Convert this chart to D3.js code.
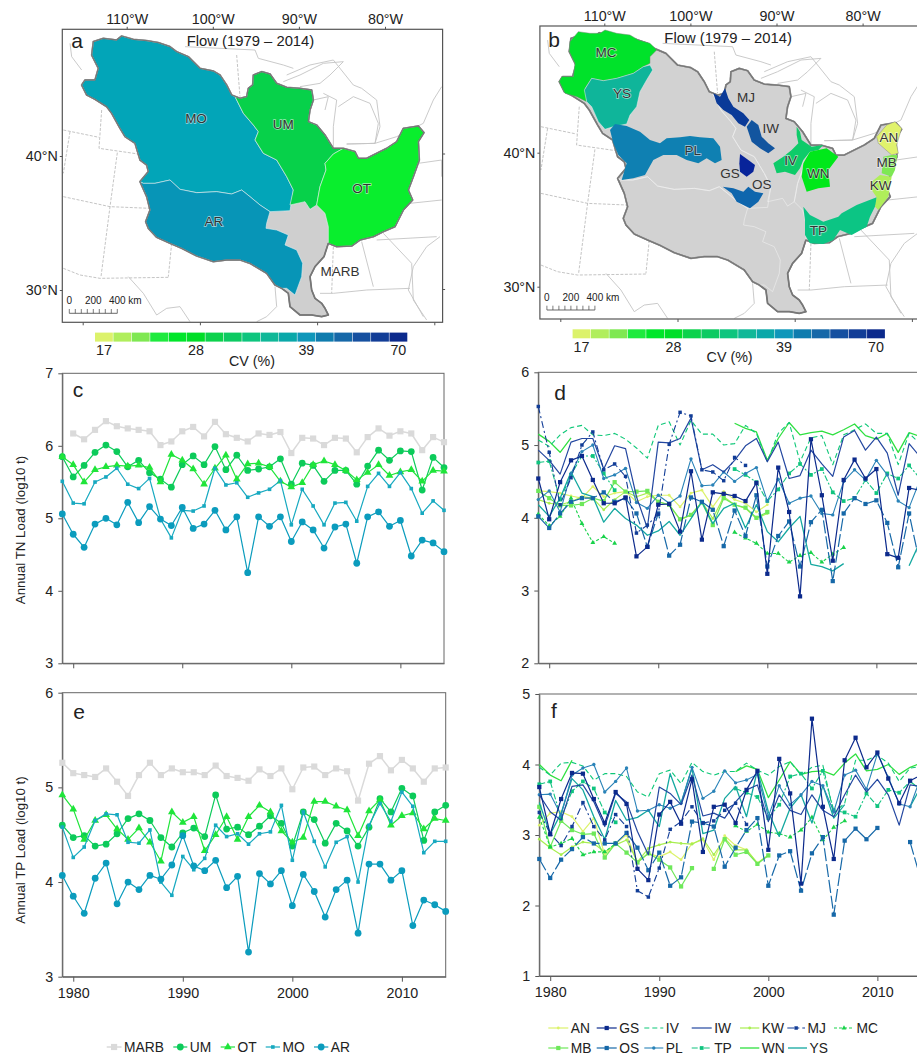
<!DOCTYPE html>
<html>
<head>
<meta charset="utf-8">
<script src="https://cdnjs.cloudflare.com/ajax/libs/d3/7.8.5/d3.min.js"></script>
<style>
  html, body { margin: 0; padding: 0; background: #fff; overflow: hidden; }
  text { font-family: "Liberation Sans", Arial, sans-serif; fill: #222; }
  .axis path, .axis line { stroke: #555; stroke-width: 1; }
  .axis text { font-size: 14.3px; font-family: "Liberation Sans", Arial, sans-serif; fill: #222; }
</style>
</head>
<body>
<script>
var years = d3.range(1979, 2015);
var n = null;

// panel c, annual TN load
var tnMARB = [n,6.17,6.09,6.22,6.34,6.27,6.24,6.22,6.20,6.01,6.06,6.20,6.26,6.13,6.33,6.16,6.11,6.06,6.17,6.15,6.19,5.90,6.11,6.10,6.01,6.11,6.10,5.91,6.12,6.24,6.14,6.20,6.17,5.94,6.12,6.05];
var tnUM = [5.85,5.57,5.73,5.91,6.01,5.92,5.71,5.80,5.63,5.54,5.43,5.74,5.86,5.74,5.99,5.67,5.87,5.66,5.68,5.71,5.82,5.47,5.76,5.73,5.51,5.66,5.66,5.47,5.72,5.94,5.80,5.93,5.92,5.39,5.84,5.70];
var tnOT = [5.85,5.74,5.50,5.67,5.71,5.73,5.72,5.73,5.70,5.50,5.88,5.80,5.68,5.47,5.69,5.87,5.54,5.75,5.76,5.71,5.51,5.43,5.49,5.74,5.79,5.74,5.66,5.53,5.63,5.74,5.59,5.64,5.67,5.51,5.66,5.65];
var tnMO = [5.51,5.21,5.20,5.50,5.57,5.69,5.47,5.41,5.55,4.99,4.73,5.11,5.10,5.17,5.69,5.46,5.49,5.29,5.35,5.40,5.52,4.91,5.40,5.17,4.91,5.21,5.22,4.96,5.44,5.62,5.44,5.63,5.41,5.07,5.24,5.11];
var tnAR = [5.06,4.78,4.60,4.92,5.00,4.91,5.22,4.94,5.16,4.99,4.90,5.15,4.86,4.92,5.11,4.84,5.02,4.25,5.02,4.89,5.02,4.68,4.95,4.84,4.59,4.88,4.92,4.38,5.02,5.09,4.89,4.97,4.48,4.70,4.66,4.54];

// panel e, annual TP load
var tpMARB = [5.26,5.15,5.13,5.11,5.20,5.06,4.91,5.13,5.26,5.13,5.20,5.16,5.16,5.13,5.23,5.12,5.10,5.07,5.19,5.12,5.20,4.98,5.21,5.22,5.13,5.20,5.17,4.86,5.25,5.33,5.18,5.29,5.20,5.06,5.20,5.21];
var tpUM = [4.60,4.47,4.49,4.38,4.40,4.51,4.67,4.72,4.65,4.47,4.37,4.52,4.57,4.48,4.92,4.56,4.58,4.50,4.59,4.70,4.62,4.38,4.74,4.66,4.41,4.62,4.54,4.38,4.58,4.88,4.74,4.99,4.91,4.44,4.74,4.81];
var tpOT = [4.92,4.77,4.45,4.65,4.71,4.56,4.45,4.57,4.42,4.22,4.74,4.63,4.69,4.33,4.50,4.69,4.45,4.69,4.81,4.74,4.54,4.42,4.47,4.85,4.85,4.80,4.76,4.49,4.75,4.87,4.60,4.70,4.73,4.56,4.67,4.65];
var tpMO = [4.58,4.26,4.37,4.65,4.72,4.71,4.42,4.41,4.55,4.00,3.86,4.27,4.13,4.25,4.60,4.48,4.51,4.40,4.51,4.53,4.81,4.23,4.74,4.43,4.16,4.42,4.48,4.00,4.60,4.83,4.64,4.95,4.80,4.31,4.43,4.43];
var tpAR = [4.07,3.85,3.67,4.04,4.20,3.77,4.00,3.92,4.07,4.03,4.18,4.49,4.17,4.12,4.23,3.94,4.06,3.26,4.09,3.98,4.12,3.75,4.08,3.90,3.63,3.92,4.02,3.46,4.19,4.19,4.02,4.12,3.54,3.81,3.76,3.69];

// panel d, TN load of the sub-basins
var tnAN = [4.37,4.36,4.34,4.30,4.27,4.43,4.29,4.34,4.36,4.22,4.29,4.31,4.31,4.15,4.34,4.38,4.15,4.36,4.25,4.20,4.08,4.18,n,n,n,n,n,n,n,n,n,n,n,n,n,n];
var tnGS = [4.54,3.98,4.49,4.79,4.85,4.52,4.20,4.20,4.28,3.47,3.60,4.18,4.19,3.81,4.64,3.70,4.35,4.33,4.30,4.23,4.48,3.23,4.69,4.08,2.92,5.08,4.31,3.41,4.52,4.80,4.54,4.67,3.50,3.45,4.41,4.38];
var tnIV = [5.07,4.98,5.14,5.24,5.27,5.14,5.13,5.16,5.08,4.96,4.82,5.27,5.32,5.00,5.34,5.15,5.15,5.00,5.02,5.27,5.16,4.77,5.16,5.31,4.77,5.10,5.13,4.73,5.14,5.21,5.29,5.16,5.16,4.73,5.16,5.02];
var tnIW = [4.93,4.79,4.60,5.04,5.09,5.09,4.67,4.99,4.95,4.29,3.86,5.04,5.03,5.09,5.37,4.66,4.73,4.63,4.79,4.99,5.09,4.77,5.04,4.54,4.58,4.93,4.74,4.57,5.11,5.20,4.93,5.11,4.89,4.31,5.02,4.84];
var tnKW = [4.25,4.20,4.18,4.22,4.29,4.27,4.11,4.25,4.36,4.29,4.34,4.22,4.18,3.97,4.04,4.22,3.99,4.29,4.18,4.13,3.99,4.06,n,n,n,n,n,n,n,n,n,n,n,n,n,n];
var tnMJ = [5.53,4.90,4.18,4.55,5.00,5.18,4.66,4.74,4.57,3.79,3.90,4.05,5.01,5.45,5.40,4.66,4.63,4.51,4.83,4.72,n,n,n,n,n,n,n,n,n,n,n,n,n,n,n,n];
var tnMC = [4.05,3.89,4.02,4.27,3.92,3.66,3.74,3.65,n,n,n,n,n,n,n,n,n,n,3.80,3.72,3.65,3.51,3.51,3.39,3.48,3.52,3.39,3.50,3.59,n,n,n,n,n,n,n];
var tnMB = [4.37,4.27,4.17,4.17,4.19,4.27,4.23,4.49,4.36,4.36,4.37,4.22,4.18,3.98,4.04,4.21,3.90,4.27,4.18,4.14,4.00,4.08,n,n,n,n,n,n,n,n,n,n,n,n,n,n];
var tnOS = [4.02,3.86,4.06,4.22,4.27,4.27,4.35,4.22,4.27,4.06,3.60,4.06,3.48,3.63,4.28,4.22,4.11,3.61,4.10,3.75,4.31,3.33,3.75,3.95,3.33,3.94,4.11,3.13,4.06,4.27,4.19,4.24,3.93,3.32,4.06,3.36];
var tnPL = [4.25,4.37,4.08,4.61,4.91,5.00,4.54,4.59,4.68,4.21,4.13,4.31,4.20,4.30,4.81,4.44,4.45,4.63,4.50,4.61,4.69,4.23,4.53,4.20,4.27,4.30,4.06,4.04,4.50,4.66,4.52,4.79,4.59,4.23,4.14,4.52];
var tnTP = [4.76,4.78,4.25,4.59,4.85,4.85,4.61,4.38,n,n,n,n,n,n,n,n,n,n,4.67,4.59,4.49,4.23,4.39,4.61,4.74,4.59,4.67,4.35,4.23,4.27,4.52,4.34,4.61,4.54,4.72,4.54];
var tnWN = [5.15,5.05,4.90,5.10,n,n,n,n,n,n,n,n,n,n,n,n,n,n,5.30,5.23,5.18,4.79,5.09,5.31,5.14,5.17,5.19,5.14,5.21,5.29,5.13,5.08,5.16,4.90,5.17,5.12];
var tnYS = [4.18,4.02,4.27,4.63,4.34,4.29,3.94,4.13,3.99,3.90,3.76,3.82,3.95,3.76,3.99,4.22,3.92,4.13,4.20,3.86,4.18,3.81,3.67,3.86,4.02,3.36,3.33,3.27,3.37,n,n,n,n,n,3.34,3.67];

// panel f, TP load of the sub-basins
var tpAN = [3.14,3.31,3.33,3.26,3.05,3.24,2.72,2.88,3.00,2.61,2.74,2.69,2.76,2.65,2.88,2.93,2.65,2.99,2.85,2.79,2.60,2.72,n,n,n,n,n,n,n,n,n,n,n,n,n,n];
var tpGS = [3.68,3.01,3.51,3.88,3.87,3.51,3.17,3.61,3.44,2.52,2.36,3.29,3.47,3.16,3.79,2.76,3.40,3.43,3.17,3.64,3.91,2.79,4.08,3.59,2.31,4.65,3.40,2.66,4.06,4.38,3.96,4.17,3.80,3.45,3.77,3.85];
var tpIV = [3.96,3.85,4.02,4.03,3.98,3.78,3.87,3.87,3.83,3.61,3.54,3.87,3.92,3.73,4.03,3.90,3.85,3.90,3.90,4.02,3.92,3.85,3.97,4.04,3.85,3.96,3.99,3.31,3.45,4.06,4.06,4.13,4.02,3.76,3.95,3.97];
var tpIW = [3.57,3.33,3.21,3.69,3.71,3.47,3.12,3.59,3.47,3.05,2.72,3.68,3.59,3.43,3.85,3.27,3.31,3.24,3.47,3.64,3.71,3.19,3.57,3.35,3.29,3.57,3.35,3.26,3.57,3.85,3.61,3.79,3.57,3.14,3.71,3.69];
var tpKW = [2.94,2.82,2.72,2.83,2.90,2.88,2.76,2.86,2.93,2.62,2.81,2.86,2.90,2.88,2.87,2.95,2.72,2.95,2.79,2.79,2.60,2.71,n,n,n,n,n,n,n,n,n,n,n,n,n,n];
var tpMJ = [3.32,3.02,2.85,3.12,3.46,3.12,2.93,3.29,3.12,2.21,2.12,2.53,3.08,3.19,3.40,3.17,3.20,3.35,3.45,3.15,n,n,n,n,n,n,n,n,n,n,n,n,n,n,n,n];
var tpMC = [3.25,2.83,2.88,2.95,2.72,2.76,2.76,2.88,n,n,n,n,n,n,n,n,n,n,3.13,3.05,3.15,3.04,3.02,2.97,3.07,3.25,2.93,3.11,3.20,n,n,n,n,n,n,n];
var tpMB = [3.40,2.83,3.20,3.07,3.01,3.02,2.68,2.88,2.75,2.61,2.74,2.65,2.54,2.27,2.53,n,2.52,2.94,2.72,2.76,2.59,2.71,n,n,n,n,n,n,n,n,n,n,n,n,n,n];
var tpOS = [2.66,2.39,2.65,2.80,2.97,2.88,2.88,2.88,3.03,2.82,2.50,2.75,2.28,2.40,3.19,3.17,3.12,2.55,2.82,3.07,3.24,2.28,2.71,2.77,2.21,2.74,2.97,1.87,2.92,3.09,2.94,3.10,n,n,2.90,2.36];
var tpPL = [3.57,3.58,3.28,3.85,3.95,4.00,3.61,3.76,3.95,3.34,3.35,3.43,3.38,3.45,3.96,3.52,3.62,3.91,3.74,3.78,3.86,3.26,3.70,3.43,3.57,3.76,3.70,3.33,3.85,3.92,3.65,4.15,3.82,3.44,3.40,3.83];
var tpTP = [3.72,3.76,3.24,3.62,3.76,3.66,3.32,3.18,n,n,n,n,n,n,n,n,n,n,3.66,3.60,3.54,3.24,3.43,3.83,3.87,3.66,3.91,3.35,3.32,3.26,3.59,3.41,3.64,3.60,3.76,3.64];
var tpWN = [4.00,3.85,3.77,4.06,n,n,n,n,n,n,n,n,n,n,n,n,n,n,3.90,3.98,3.93,3.53,3.78,4.04,3.86,3.90,3.91,3.85,4.02,4.15,3.91,3.93,4.00,3.86,3.96,4.02];
var tpYS = [3.46,3.01,3.31,3.80,3.64,3.26,2.94,3.49,3.21,3.25,3.35,3.12,3.87,3.45,3.95,3.02,3.07,3.52,3.69,3.26,3.92,3.33,2.98,3.38,3.57,3.17,3.70,3.24,3.43,n,n,n,n,n,3.40,3.69];

// colour key
var cvLabels = ["17", "", "", "", "", "28", "", "", "", "", "", "39", "", "", "", "", "70"];
var cvColors = ["#dcf26b", "#b0ee5c", "#7fe852", "#1eea3e", "#00e62a", "#00de28", "#0cd24c", "#0dca62", "#0ec57e", "#10b898", "#0aa8a9", "#0f97ba", "#0f7cae", "#1668a8", "#1650a0", "#123d97", "#0c2a8c"];

// map outlines, in map units (3 units = 1 px)
var outlineBasin = [[280,125],[310,115],[350,120],[365,108],[400,118],[440,122],[475,128],[510,140],[530,155],[565,170],[600,205],[640,213],[660,225],[680,255],[695,285],[720,295],[740,290],[745,265],[758,255],[760,225],[785,215],[810,222],[830,250],[860,262],[900,265],[935,270],[940,300],[930,330],[925,365],[950,375],[975,405],[1000,445],[1030,445],[1065,455],[1075,475],[1100,475],[1130,460],[1160,445],[1190,425],[1210,385],[1255,378],[1272,398],[1255,425],[1258,480],[1240,530],[1225,570],[1238,600],[1210,630],[1185,680],[1150,695],[1120,710],[1080,720],[1055,738],[1010,740],[985,730],[972,770],[945,800],[930,830],[935,870],[945,895],[965,910],[975,925],[985,945],[965,950],[935,945],[900,945],[870,920],[865,880],[845,865],[825,855],[800,820],[750,790],[720,780],[680,780],[640,785],[590,768],[545,745],[510,730],[470,712],[445,685],[437,665],[450,630],[440,590],[420,545],[445,515],[440,495],[420,480],[405,430],[375,410],[360,385],[335,340],[320,320],[285,298],[260,285],[245,255],[255,240],[285,240],[295,205],[275,165]];
var outlineMO = [[280,125],[310,115],[350,120],[365,108],[400,118],[440,122],[475,128],[510,140],[530,155],[565,170],[600,205],[640,213],[660,225],[680,255],[695,285],[705,290],[730,340],[760,375],[775,395],[765,420],[790,460],[830,480],[860,530],[880,570],[870,632],[810,635],[780,615],[750,590],[725,570],[695,582],[650,575],[590,578],[540,568],[510,540],[465,550],[430,550],[420,545],[445,515],[440,495],[420,480],[405,430],[375,410],[360,385],[335,340],[320,320],[285,298],[260,285],[245,255],[255,240],[285,240],[295,205],[275,165]];
var outlineUM = [[705,290],[720,295],[740,290],[745,265],[758,255],[760,225],[785,215],[810,222],[830,250],[860,262],[900,265],[935,270],[940,300],[930,330],[925,365],[950,375],[975,405],[1000,445],[1030,445],[1000,462],[975,490],[978,510],[960,560],[950,615],[930,628],[915,605],[870,615],[880,570],[860,530],[830,480],[790,460],[765,420],[775,395],[760,375],[730,340]];
var outlineOT = [[1030,445],[1065,455],[1075,475],[1100,475],[1130,460],[1160,445],[1190,425],[1210,385],[1255,378],[1272,398],[1255,425],[1258,480],[1240,530],[1225,570],[1238,600],[1210,630],[1185,680],[1150,695],[1120,710],[1080,720],[1055,738],[1010,740],[985,730],[985,680],[975,640],[950,615],[960,560],[978,510],[975,490],[1000,462]];
var outlineAR = [[420,545],[430,550],[465,550],[510,540],[540,568],[590,578],[650,575],[695,582],[725,570],[750,590],[780,615],[810,635],[800,670],[798,685],[830,690],[865,705],[855,735],[890,750],[908,790],[905,830],[885,885],[860,865],[845,865],[825,855],[800,820],[750,790],[720,780],[680,780],[640,785],[590,768],[545,745],[510,730],[470,712],[445,685],[437,665],[450,630],[440,590]];

// sub-basins of panel b, same units, origin of that panel
var outlineMC = [[240,125],[265,95],[300,100],[330,100],[345,90],[380,100],[420,105],[445,120],[480,130],[500,150],[480,170],[480,190],[460,200],[430,220],[380,235],[340,242],[305,235],[285,265],[290,305],[260,290],[225,280],[208,245],[215,230],[250,230],[255,190],[238,155]];
var outlineYS = [[305,235],[340,242],[380,235],[430,220],[460,200],[480,195],[488,210],[470,240],[450,275],[440,320],[420,345],[410,372],[370,380],[345,388],[325,365],[305,320],[290,305],[283,270]];
var outlinePL = [[360,390],[375,372],[410,378],[450,395],[480,420],[510,430],[530,415],[570,412],[600,408],[630,412],[670,415],[690,440],[695,480],[675,490],[650,475],[625,490],[590,480],[560,465],[520,465],[490,480],[465,525],[430,535],[395,540],[410,490],[385,465],[370,430]];
var outlineMJ = [[670,280],[690,290],[705,265],[715,295],[730,320],[760,340],[778,360],[765,380],[745,370],[725,345],[700,330],[680,310]];
var outlineIW = [[770,380],[785,360],[805,375],[815,410],[835,430],[855,445],[835,460],[810,445],[785,425]];
var outlineGS = [[750,462],[775,480],[795,495],[790,515],[770,530],[750,515],[748,490]];
var outlineOS = [[698,560],[730,565],[760,575],[775,560],[795,575],[820,580],[805,605],[780,625],[740,605],[725,580]];
var outlineIV = [[920,380],[930,395],[935,420],[965,440],[1000,435],[985,450],[960,455],[940,480],[930,505],[915,525],[885,515],[860,520],[850,490],[880,470],[905,450],[925,430],[920,405]];
var outlineWN = [[960,455],[985,450],[1010,445],[1045,470],[1015,510],[1020,560],[985,565],[950,575],[935,530],[940,490]];
var outlineTP = [[940,620],[960,645],[1000,665],[1045,650],[1055,640],[1100,615],[1160,592],[1160,610],[1140,650],[1130,680],[1085,705],[1050,690],[1030,720],[1000,732],[960,730],[945,705],[945,660]];
var outlineAN = [[1160,410],[1190,375],[1215,365],[1235,385],[1220,435],[1225,460],[1205,465],[1165,430]];
var outlineMB = [[1180,470],[1205,465],[1222,465],[1215,510],[1205,530],[1175,520]];
var outlineKW = [[1145,545],[1170,525],[1205,530],[1195,590],[1165,630],[1155,620],[1160,592],[1145,570]];

// state lines and coasts behind the basin
var westLines = [
  [[305,330],[297,445],[415,462]],
  [[210,395],[190,520]],
  [[190,390],[297,412]],
  [[352,458],[330,620],[303,830]],
  [[190,590],[330,620],[450,625]],
  [[515,730],[505,830]],
  [[190,805],[240,825],[300,835],[505,832]],
  [[710,165],[720,290]],
  [[1000,740],[995,880]]
];
var eastLines = [
  [[210,130],[215,170],[245,210]],
  [[555,140],[765,150],[775,175],[850,195],[880,205]],
  [[385,830],[430,880],[470,945],[500,925],[540,920],[570,965]],
  [[825,860],[830,920],[800,950],[770,965]],
  [[850,245],[900,225],[970,190],[1030,185],[990,225],[960,250],[900,260]],
  [[860,225],[930,195],[1000,180],[1060,255],[1085,265]],
  [[970,280],[1010,300],[1000,380],[1000,445]],
  [[940,300],[985,290],[975,330]],
  [[1015,320],[1060,290],[1110,310],[1135,370],[1125,430],[1040,432]],
  [[1085,265],[1130,300],[1140,380],[1125,430]],
  [[1040,432],[1125,430],[1190,410],[1270,370],[1300,300],[1325,260]],
  [[1085,725],[1120,860]],
  [[1150,700],[1235,790],[1240,900],[1280,960]],
  [[1320,710],[1280,740],[1240,800],[1225,870],[1270,950]],
  [[960,880],[1000,880],[1100,870],[1230,865]],
  [[1130,720],[1310,710]],
  [[1230,610],[1325,600]],
  [[1255,490],[1325,480],[1325,530]]
];

var lonTicks = [-110, -100, -90, -80];
var latTicks = [30, 40];
var scaleKm = [0, 50, 100, 150, 200, 250, 300, 350, 400];

var svg = d3.select("body").append("svg")
  .attr("width", 917)
  .attr("height", 1055);

var mapUnit = d3.scaleLinear().domain([0, 3]).range([0, 1]);
var mapLine = d3.line()
  .x(function(d) { return mapUnit(d[0]); })
  .y(function(d) { return mapUnit(d[1]); });

function drawRegion(g, coords, fill, stroke, sw) {
  g.append("path")
    .attr("d", mapLine(coords) + "Z")
    .attr("fill", fill)
    .attr("stroke", stroke)
    .attr("stroke-width", sw)
    .attr("stroke-linejoin", "round");
}

function mapLabel(g, txt, ux, uy, halo) {
  var t = g.append("text")
    .attr("x", mapUnit(ux))
    .attr("y", mapUnit(uy))
    .attr("text-anchor", "middle")
    .attr("dominant-baseline", "middle")
    .style("font-size", "13.5px")
    .style("fill", "#333")
    .text(txt);
  if (halo) {
    t.style("paint-order", "stroke")
      .style("stroke", "rgba(255,255,255,0.6)")
      .style("stroke-width", "1.4px");
  }
}

function colourKey(g) {
  var band = d3.scaleBand().domain(d3.range(cvColors.length)).range([95, 407.3]).paddingInner(0.03);
  g.selectAll("rect.key").data(cvColors).enter().append("rect")
    .attr("class", "key")
    .attr("x", function(d, i) { return band(i); })
    .attr("y", 332.6)
    .attr("width", band.bandwidth())
    .attr("height", 9)
    .attr("fill", function(d) { return d; });
  g.selectAll("text.keylab").data(cvLabels).enter().append("text")
    .attr("class", "keylab")
    .attr("x", function(d, i) { return band(i) + band.bandwidth() / 2; })
    .attr("y", 355)
    .attr("text-anchor", "middle")
    .style("font-size", "14.3px")
    .text(function(d) { return d; });
  g.append("text").attr("x", 252).attr("y", 365.5).attr("text-anchor", "middle")
    .style("font-size", "14.3px").text("CV (%)");
}

// frame, graticule ticks and line work shared by both maps
function mapBase(id, dx, dy, frameW) {
  var g = svg.append("g").attr("transform", "translate(" + dx + "," + dy + ")");
  svg.append("clipPath").attr("id", id).append("rect")
    .attr("x", 62.3).attr("y", 29.3).attr("width", frameW).attr("height", 293);
  var back = g.append("g").attr("clip-path", "url(#" + id + ")");
  back.selectAll("path.west").data(westLines).enter().append("path")
    .attr("class", "west")
    .attr("d", mapLine).attr("fill", "none")
    .attr("stroke", "#b5b5b5").attr("stroke-width", 0.8).attr("stroke-dasharray", "3,1.5");
  back.selectAll("path.east").data(eastLines).enter().append("path")
    .attr("class", "east")
    .attr("d", mapLine).attr("fill", "none")
    .attr("stroke", "#c4c4c4").attr("stroke-width", 0.9);

  var lonTop = d3.scaleLinear().domain([-110, -80]).range([126.7, 385]);
  var lonBottom = d3.scaleLinear().domain([-110, -80]).range([82.7, 434.3]);
  var lat = d3.scaleLinear().domain([30, 40]).range([290, 156]);
  var latRight = d3.scaleLinear().domain([30, 40]).range([289, 153.5]);

  g.append("g").attr("class", "axis").attr("transform", "translate(0,29.3)")
    .call(d3.axisTop(lonTop).tickValues(lonTicks).tickSize(2.5).tickSizeOuter(0).tickPadding(3)
      .tickFormat(function(d) { return Math.abs(d) + "°W"; }))
    .call(function(s) { s.select(".domain").remove(); });
  g.append("g").attr("class", "axis").attr("transform", "translate(0,322.3)")
    .call(d3.axisBottom(lonBottom).tickValues(lonTicks).tickSize(3).tickSizeOuter(0).tickFormat(""))
    .call(function(s) { s.select(".domain").remove(); });
  g.append("g").attr("class", "axis").attr("transform", "translate(62.3,0)")
    .call(d3.axisLeft(lat).tickValues(latTicks).tickSize(2.5).tickSizeOuter(0).tickPadding(2)
      .tickFormat(function(d) { return d + "°N"; }))
    .call(function(s) { s.select(".domain").remove(); });
  g.append("g").attr("class", "axis").attr("transform", "translate(442.6,0)")
    .call(d3.axisRight(latRight).tickValues(latTicks).tickSize(2.5).tickSizeOuter(0).tickFormat(""))
    .call(function(s) { s.select(".domain").remove(); });
  return g;
}

function mapFrame(g, frameW) {
  g.append("rect").attr("x", 62.3).attr("y", 29.3).attr("width", frameW).attr("height", 293)
    .attr("fill", "none").attr("stroke", "#555").attr("stroke-width", 1.2);
}

function scaleBar(g) {
  var km = d3.scaleLinear().domain([0, 400]).range([69.3, 117.3]);
  g.append("line").attr("x1", km(0)).attr("x2", km(400)).attr("y1", 313.3).attr("y2", 313.3)
    .attr("stroke", "#444").attr("stroke-width", 0.8);
  g.selectAll("line.kmtick").data(scaleKm).enter().append("line")
    .attr("class", "kmtick")
    .attr("x1", km).attr("x2", km).attr("y1", 309).attr("y2", 313.3)
    .attr("stroke", "#444").attr("stroke-width", 0.7);
  [0, 200, 400].forEach(function(v) {
    g.append("text").attr("x", km(v)).attr("y", 304)
      .attr("text-anchor", "middle")
      .style("font-size", "10px").text(v);
  });
  g.append("text").attr("x", km(400) + 11).attr("y", 304).style("font-size", "10px").text("km");
}

// panel a
var mapA = mapBase("clipA", 0, 0, 380.3);
drawRegion(mapA, outlineBasin, "#cfcfcf", "#777", 1.7);
drawRegion(mapA, outlineMO, "#02a5b8", "#e6eef0", 0.6);
drawRegion(mapA, outlineUM, "#07d14a", "#e6eef0", 0.6);
drawRegion(mapA, outlineOT, "#09ee2d", "#e6eef0", 0.6);
drawRegion(mapA, outlineAR, "#0795b7", "#e6eef0", 0.6);
mapA.append("path").attr("d", mapLine(outlineBasin) + "Z").attr("fill", "none")
  .attr("stroke", "#777").attr("stroke-width", 1.3).attr("stroke-linejoin", "round");
mapLabel(mapA, "MO", 588, 358, true);
mapLabel(mapA, "UM", 850, 375, true);
mapLabel(mapA, "OT", 1085, 567, true);
mapLabel(mapA, "AR", 642, 668, true);
mapLabel(mapA, "MARB", 1020, 818, false);
mapFrame(mapA, 380.3);
scaleBar(mapA);
mapA.append("text").attr("x", 250.5).attr("y", 46).attr("text-anchor", "middle")
  .style("font-size", "14.8px").text("Flow (1979 – 2014)");
mapA.append("text").attr("x", 77).attr("y", 48).attr("text-anchor", "middle")
  .style("font-size", "21px").text("a");
colourKey(mapA);

// panel b
var mapB = mapBase("clipB", 477.6, -3.3, 460);
drawRegion(mapB, outlineBasin, "#d2d2d2", "#777", 1.7);
[outlineMO, outlineUM, outlineOT, outlineAR].forEach(function(o) {
  drawRegion(mapB, o, "none", "#f0f0f0", 0.6);
});
mapB.append("path").attr("d", mapLine(outlineBasin) + "Z").attr("fill", "none")
  .attr("stroke", "#777").attr("stroke-width", 1.3).attr("stroke-linejoin", "round");
mapFrame(mapB, 460);
scaleBar(mapB);
mapB.append("text").attr("x", 250.5).attr("y", 46).attr("text-anchor", "middle")
  .style("font-size", "14.8px").text("Flow (1979 – 2014)");
colourKey(mapB);

var subB = svg.append("g").attr("transform", "translate(490,0)");
drawRegion(subB, outlineMC, "#00e22a", "#7a8a7a", 0.5);
drawRegion(subB, outlineYS, "#0fb59a", "#f0f0f0", 0.5);
drawRegion(subB, outlinePL, "#0f80b2", "none", 0);
drawRegion(subB, outlineMJ, "#0a3a98", "none", 0);
drawRegion(subB, outlineIW, "#12559f", "none", 0);
drawRegion(subB, outlineGS, "#08249a", "none", 0);
drawRegion(subB, outlineOS, "#0f66ad", "none", 0);
drawRegion(subB, outlineIV, "#0ecb69", "none", 0);
drawRegion(subB, outlineWN, "#00e81a", "none", 0);
drawRegion(subB, outlineTP, "#0cc584", "none", 0);
drawRegion(subB, outlineAN, "#e0f26c", "#8a8a8a", 0.5);
drawRegion(subB, outlineMB, "#7ee854", "none", 0);
drawRegion(subB, outlineKW, "#b0ee5a", "none", 0);
mapLabel(subB, "MC", 348, 160, true);
mapLabel(subB, "YS", 396, 282, true);
mapLabel(subB, "PL", 608, 455, true);
mapLabel(subB, "MJ", 768, 295, false);
mapLabel(subB, "IW", 842, 387, false);
mapLabel(subB, "GS", 720, 522, false);
mapLabel(subB, "OS", 815, 556, false);
mapLabel(subB, "IV", 902, 483, true);
mapLabel(subB, "WN", 985, 522, true);
mapLabel(subB, "TP", 985, 695, true);
mapLabel(subB, "AN", 1197, 414, true);
mapLabel(subB, "MB", 1190, 490, true);
mapLabel(subB, "KW", 1172, 560, true);
subB.append("text").attr("x", 64).attr("y", 47).attr("text-anchor", "middle")
  .style("font-size", "21px").text("b");

// line styles per series
var styles = {
  MARB: { color: "#dadada", width: 1.5, symbol: d3.symbolSquare, size: 38 },
  UM: { color: "#0ccb5a", width: 1.2, symbol: d3.symbolCircle, size: 36 },
  OT: { color: "#1fe53a", width: 1.2, symbol: d3.symbolTriangle, size: 26 },
  MO: { color: "#17a9c0", width: 1.2, symbol: d3.symbolSquare, size: 13 },
  AR: { color: "#0b9cbd", width: 1.2, symbol: d3.symbolCircle, size: 36 },
  AN: { color: "#dcf26b", width: 1.2, symbol: d3.symbolCircle, size: 6 },
  GS: { color: "#0c2a8c", width: 1.2, symbol: d3.symbolSquare, size: 18 },
  IV: { color: "#0ec878", width: 1.1, dash: "5,3" },
  IW: { color: "#2347a0", width: 1.2 },
  KW: { color: "#a8ee50", width: 1.2, symbol: d3.symbolCircle, size: 6 },
  MJ: { color: "#123d97", width: 1.1, dash: "7,3,2,3", symbol: d3.symbolSquare, size: 12 },
  MC: { color: "#18d24a", width: 1.1, dash: "3,2", symbol: d3.symbolTriangle, size: 10 },
  MB: { color: "#6ee85a", width: 1.2, symbol: d3.symbolSquare, size: 18 },
  OS: { color: "#1668a8", width: 1.2, dash: "13,3", symbol: d3.symbolSquare, size: 18 },
  PL: { color: "#2a83b8", width: 1.1, symbol: d3.symbolCircle, size: 9 },
  TP: { color: "#10c47f", width: 1.1, dash: "6,2,2,2", symbol: d3.symbolSquare, size: 14 },
  WN: { color: "#2fe040", width: 1.3 },
  YS: { color: "#14a8a0", width: 1.3 }
};

function linePanel(box, yDomain, yTicks, letter, letterX, letterY, series, showYears, yTitle, titleY) {
  var x = d3.scaleLinear().domain([1979, 2014]).range([box.left, box.right]);
  var y = d3.scaleLinear().domain(yDomain).range([box.bottom, box.top]);
  var g = svg.append("g");

  var xAxis = d3.axisBottom(x).tickValues([1980, 1990, 2000, 2010]).tickSize(5).tickSizeOuter(0).tickPadding(6)
    .tickFormat(function(d) { return showYears ? d : ""; });
  g.append("g").attr("class", "axis").attr("transform", "translate(0," + box.bottom + ")").call(xAxis);

  var yAxis = d3.axisLeft(y).tickValues(yTicks).tickSize(4).tickSizeOuter(0).tickPadding(5).tickFormat(d3.format("d"));
  g.append("g").attr("class", "axis").attr("transform", "translate(" + box.left + ",0)").call(yAxis);

  g.append("rect")
    .attr("x", box.left).attr("y", box.top)
    .attr("width", box.right - box.left).attr("height", box.bottom - box.top)
    .attr("fill", "none").attr("stroke", "#666").attr("stroke-width", 1);

  var line = d3.line()
    .defined(function(d) { return d != null; })
    .x(function(d, i) { return x(years[i]); })
    .y(function(d) { return y(d); });

  series.forEach(function(s) {
    var st = styles[s.name];
    g.append("path").datum(s.values)
      .attr("d", line)
      .attr("fill", "none")
      .attr("stroke", st.color)
      .attr("stroke-width", st.width)
      .attr("stroke-dasharray", st.dash || null)
      .attr("stroke-linejoin", "round");
    if (st.symbol) {
      g.selectAll("path.m" + s.name)
        .data(s.values.map(function(v, i) { return { v: v, year: years[i] }; }).filter(function(d) { return d.v != null; }))
        .enter().append("path")
        .attr("class", "m" + s.name)
        .attr("d", d3.symbol().type(st.symbol).size(st.size))
        .attr("transform", function(d) { return "translate(" + x(d.year) + "," + y(d.v) + ")"; })
        .attr("fill", st.color);
    }
  });

  g.append("text").attr("x", letterX).attr("y", letterY).attr("text-anchor", "middle")
    .style("font-size", "21px").text(letter);

  if (yTitle) {
    g.append("text")
      .attr("transform", "translate(25," + titleY + ") rotate(-90)")
      .attr("text-anchor", "middle")
      .style("font-size", "13.3px")
      .text(yTitle);
  }
}

linePanel({ left: 62.3, right: 444, top: 373.3, bottom: 663.3 }, [3, 7], [3, 4, 5, 6, 7], "c", 78, 397,
  [{ name: "MARB", values: tnMARB }, { name: "UM", values: tnUM }, { name: "OT", values: tnOT }, { name: "MO", values: tnMO }, { name: "AR", values: tnAR }],
  false, "Annual TN Load (log10 t)", 530);

linePanel({ left: 538.3, right: 920, top: 372.3, bottom: 663.3 }, [2, 6], [2, 3, 4, 5, 6], "d", 560, 400,
  [{ name: "AN", values: tnAN }, { name: "KW", values: tnKW }, { name: "MB", values: tnMB }, { name: "MC", values: tnMC }, { name: "WN", values: tnWN }, { name: "IV", values: tnIV }, { name: "TP", values: tnTP }, { name: "YS", values: tnYS }, { name: "PL", values: tnPL }, { name: "OS", values: tnOS }, { name: "IW", values: tnIW }, { name: "MJ", values: tnMJ }, { name: "GS", values: tnGS }],
  false, null, 0);

linePanel({ left: 62.3, right: 445.7, top: 692.7, bottom: 976.7 }, [3, 6], [3, 4, 5, 6], "e", 79, 719,
  [{ name: "MARB", values: tpMARB }, { name: "UM", values: tpUM }, { name: "OT", values: tpOT }, { name: "MO", values: tpMO }, { name: "AR", values: tpAR }],
  true, "Annual TP Load (log10 t)", 850);

linePanel({ left: 539.3, right: 921, top: 694, bottom: 976 }, [1, 5], [1, 2, 3, 4, 5], "f", 554, 718,
  [{ name: "AN", values: tpAN }, { name: "KW", values: tpKW }, { name: "MB", values: tpMB }, { name: "MC", values: tpMC }, { name: "WN", values: tpWN }, { name: "IV", values: tpIV }, { name: "TP", values: tpTP }, { name: "YS", values: tpYS }, { name: "PL", values: tpPL }, { name: "OS", values: tpOS }, { name: "IW", values: tpIW }, { name: "MJ", values: tpMJ }, { name: "GS", values: tpGS }],
  true, null, 0);

// legends
function legendItem(name, x0, x1, yy) {
  var st = styles[name];
  var g = svg.append("g");
  g.append("line").attr("x1", x0).attr("x2", x1).attr("y1", yy).attr("y2", yy)
    .attr("stroke", st.color).attr("stroke-width", st.width)
    .attr("stroke-dasharray", st.dash && name != "OS" ? st.dash : null);
  if (st.symbol) {
    g.append("path")
      .attr("d", d3.symbol().type(st.symbol).size(st.size))
      .attr("transform", "translate(" + (x0 + x1) / 2 + "," + yy + ")")
      .attr("fill", st.color);
  }
  g.append("text").attr("x", x1 + 2.5).attr("y", yy + 5)
    .style("font-size", "13.8px").text(name);
}

legendItem("MARB", 106.7, 121.5, 1047);
legendItem("UM", 173.3, 187.3, 1047);
legendItem("OT", 220.7, 235, 1047);
legendItem("MO", 265.7, 280, 1047);
legendItem("AR", 314, 328.3, 1047);

legendItem("AN", 548.3, 568.3, 1028);
legendItem("GS", 596.7, 616.7, 1028);
legendItem("IV", 644.3, 663.3, 1028);
legendItem("IW", 691.7, 711.7, 1028);
legendItem("KW", 740, 759.3, 1028);
legendItem("MJ", 787.3, 805, 1028);
legendItem("MC", 834, 854, 1028);
legendItem("MB", 548.3, 568.3, 1048);
legendItem("OS", 596.7, 616.7, 1048);
legendItem("PL", 644.3, 663.3, 1048);
legendItem("TP", 691.7, 711.7, 1048);
legendItem("WN", 740, 759.3, 1048);
legendItem("YS", 788, 807, 1048);
</script>
</body>
</html>
